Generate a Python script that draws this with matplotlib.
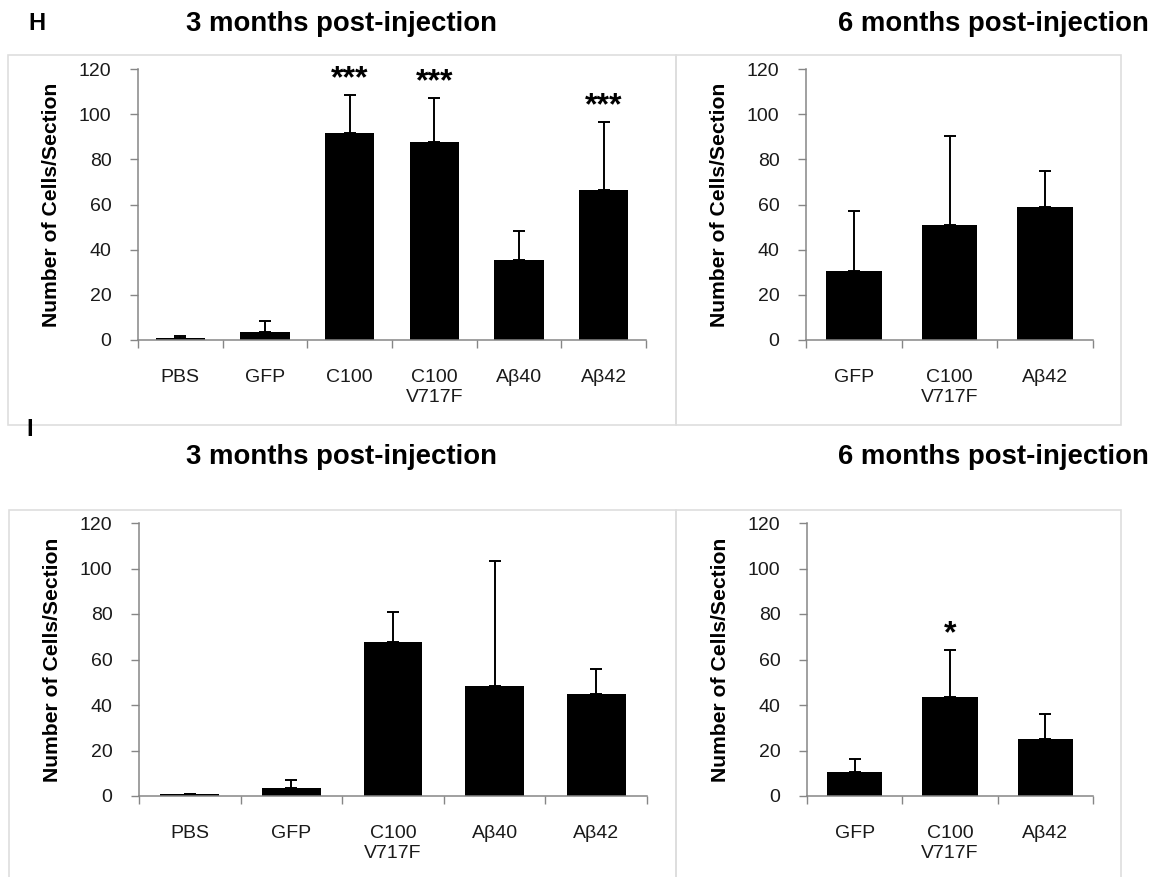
import matplotlib
matplotlib.use("Agg")
import matplotlib.pyplot as plt
from matplotlib.patches import Rectangle

plt.rcParams["font.family"] = ["Liberation Sans", "DejaVu Sans"]

# data (upper error only)
h3_labels = ["PBS", "GFP", "C100", "C100\nV717F", "Aβ40", "Aβ42"]
h3_values = [1.0, 3.5, 91.5, 87.5, 35.5, 66.5]
h3_errors = [0.8, 5.0, 17.0, 19.5, 12.8, 30.0]
h3_stars = ["", "", "***", "***", "", "***"]

h6_labels = ["GFP", "C100\nV717F", "Aβ42"]
h6_values = [30.5, 51.0, 59.0]
h6_errors = [26.5, 39.5, 16.0]
h6_stars = ["", "", ""]

i3_labels = ["PBS", "GFP", "C100\nV717F", "Aβ40", "Aβ42"]
i3_values = [1.0, 3.7, 67.5, 48.5, 45.0]
i3_errors = [0.0, 3.2, 13.5, 55.0, 11.0]
i3_stars = ["", "", "", "", ""]

i6_labels = ["GFP", "C100\nV717F", "Aβ42"]
i6_values = [10.7, 43.5, 25.0]
i6_errors = [5.7, 20.5, 11.0]
i6_stars = ["", "*", ""]

W, H = 1154, 877
fig = plt.figure(figsize=(W / 100, H / 100), dpi=100)


def px_axes(x0, y0, x1, y1):
    # pixel box (top-left origin) -> figure axes
    return fig.add_axes([x0 / W, 1 - y1 / H, (x1 - x0) / W, (y1 - y0) / H])


def panel_box(x0, y0, x1, y1):
    fig.patches.append(Rectangle((x0 / W, 1 - y1 / H), (x1 - x0) / W, (y1 - y0) / H,
                                 transform=fig.transFigure, fill=False,
                                 edgecolor="#dedede", linewidth=1.2))


def bar_panel(ax, labels, values, errors, stars):
    n = len(labels)
    xs = list(range(n))
    ax.bar(xs, values, width=0.58, color="black", zorder=2)
    ax.errorbar(xs, values, yerr=[[0] * n, errors], fmt="none", ecolor="black",
                elinewidth=1.4, capsize=4.5, capthick=1.4, zorder=3)
    for x, v, e, s in zip(xs, values, errors, stars):
        if s:
            ax.text(x, v + e + 0.5, s, ha="center", va="bottom",
                    fontsize=23, fontweight="bold")
    ax.set_xlim(-0.5, n - 0.5)
    ax.set_ylim(0, 120)
    ax.set_yticks(range(0, 121, 20))
    ax.set_xticks(xs)
    ax.set_xticklabels(labels)
    ax.set_xticks([i - 0.5 for i in range(n + 1)], minor=True)
    ax.tick_params(axis="x", which="major", length=0, pad=21, labelsize=14,
                   labelcolor="#1a1a1a")
    ax.tick_params(axis="x", which="minor", length=6, color="#868686", width=1)
    ax.tick_params(axis="y", length=6, color="#868686", width=1, pad=13,
                   labelsize=14, labelcolor="#1a1a1a")
    for side in ["top", "right"]:
        ax.spines[side].set_visible(False)
    for side in ["left", "bottom"]:
        ax.spines[side].set_color("#868686")
        ax.spines[side].set_linewidth(1.1)
    ax.set_ylabel("Number of Cells/Section", fontsize=15.2, fontweight="bold",
                  labelpad=13)


panel_box(8, 55, 676, 425)
panel_box(676, 55, 1121, 425)
panel_box(9, 510, 676, 890)
panel_box(676, 510, 1121, 890)

ax1 = px_axes(138, 69, 646, 340)
bar_panel(ax1, h3_labels, h3_values, h3_errors, h3_stars)
ax2 = px_axes(806, 69, 1093, 340)
bar_panel(ax2, h6_labels, h6_values, h6_errors, h6_stars)
ax3 = px_axes(139, 523, 647, 796)
bar_panel(ax3, i3_labels, i3_values, i3_errors, i3_stars)
ax4 = px_axes(807, 523, 1093, 796)
bar_panel(ax4, i6_labels, i6_values, i6_errors, i6_stars)

title_kw = dict(fontsize=19.8, fontweight="bold", ha="center", va="center")
fig.text(342 / W, 1 - 24 / H, "3 months post-injection", **title_kw)
fig.text(993 / W, 1 - 24 / H, "6 months post-injection", **title_kw)
fig.text(342 / W, 1 - 457 / H, "3 months post-injection", **title_kw)
fig.text(993 / W, 1 - 457 / H, "6 months post-injection", **title_kw)

fig.text(37 / W, 1 - 24 / H, "H", fontsize=17, fontweight="bold", ha="center", va="center")
fig.text(30 / W, 1 - 430 / H, "I", fontsize=17, fontweight="bold", ha="center", va="center")

fig.savefig("out.png", dpi=100, facecolor="white")
